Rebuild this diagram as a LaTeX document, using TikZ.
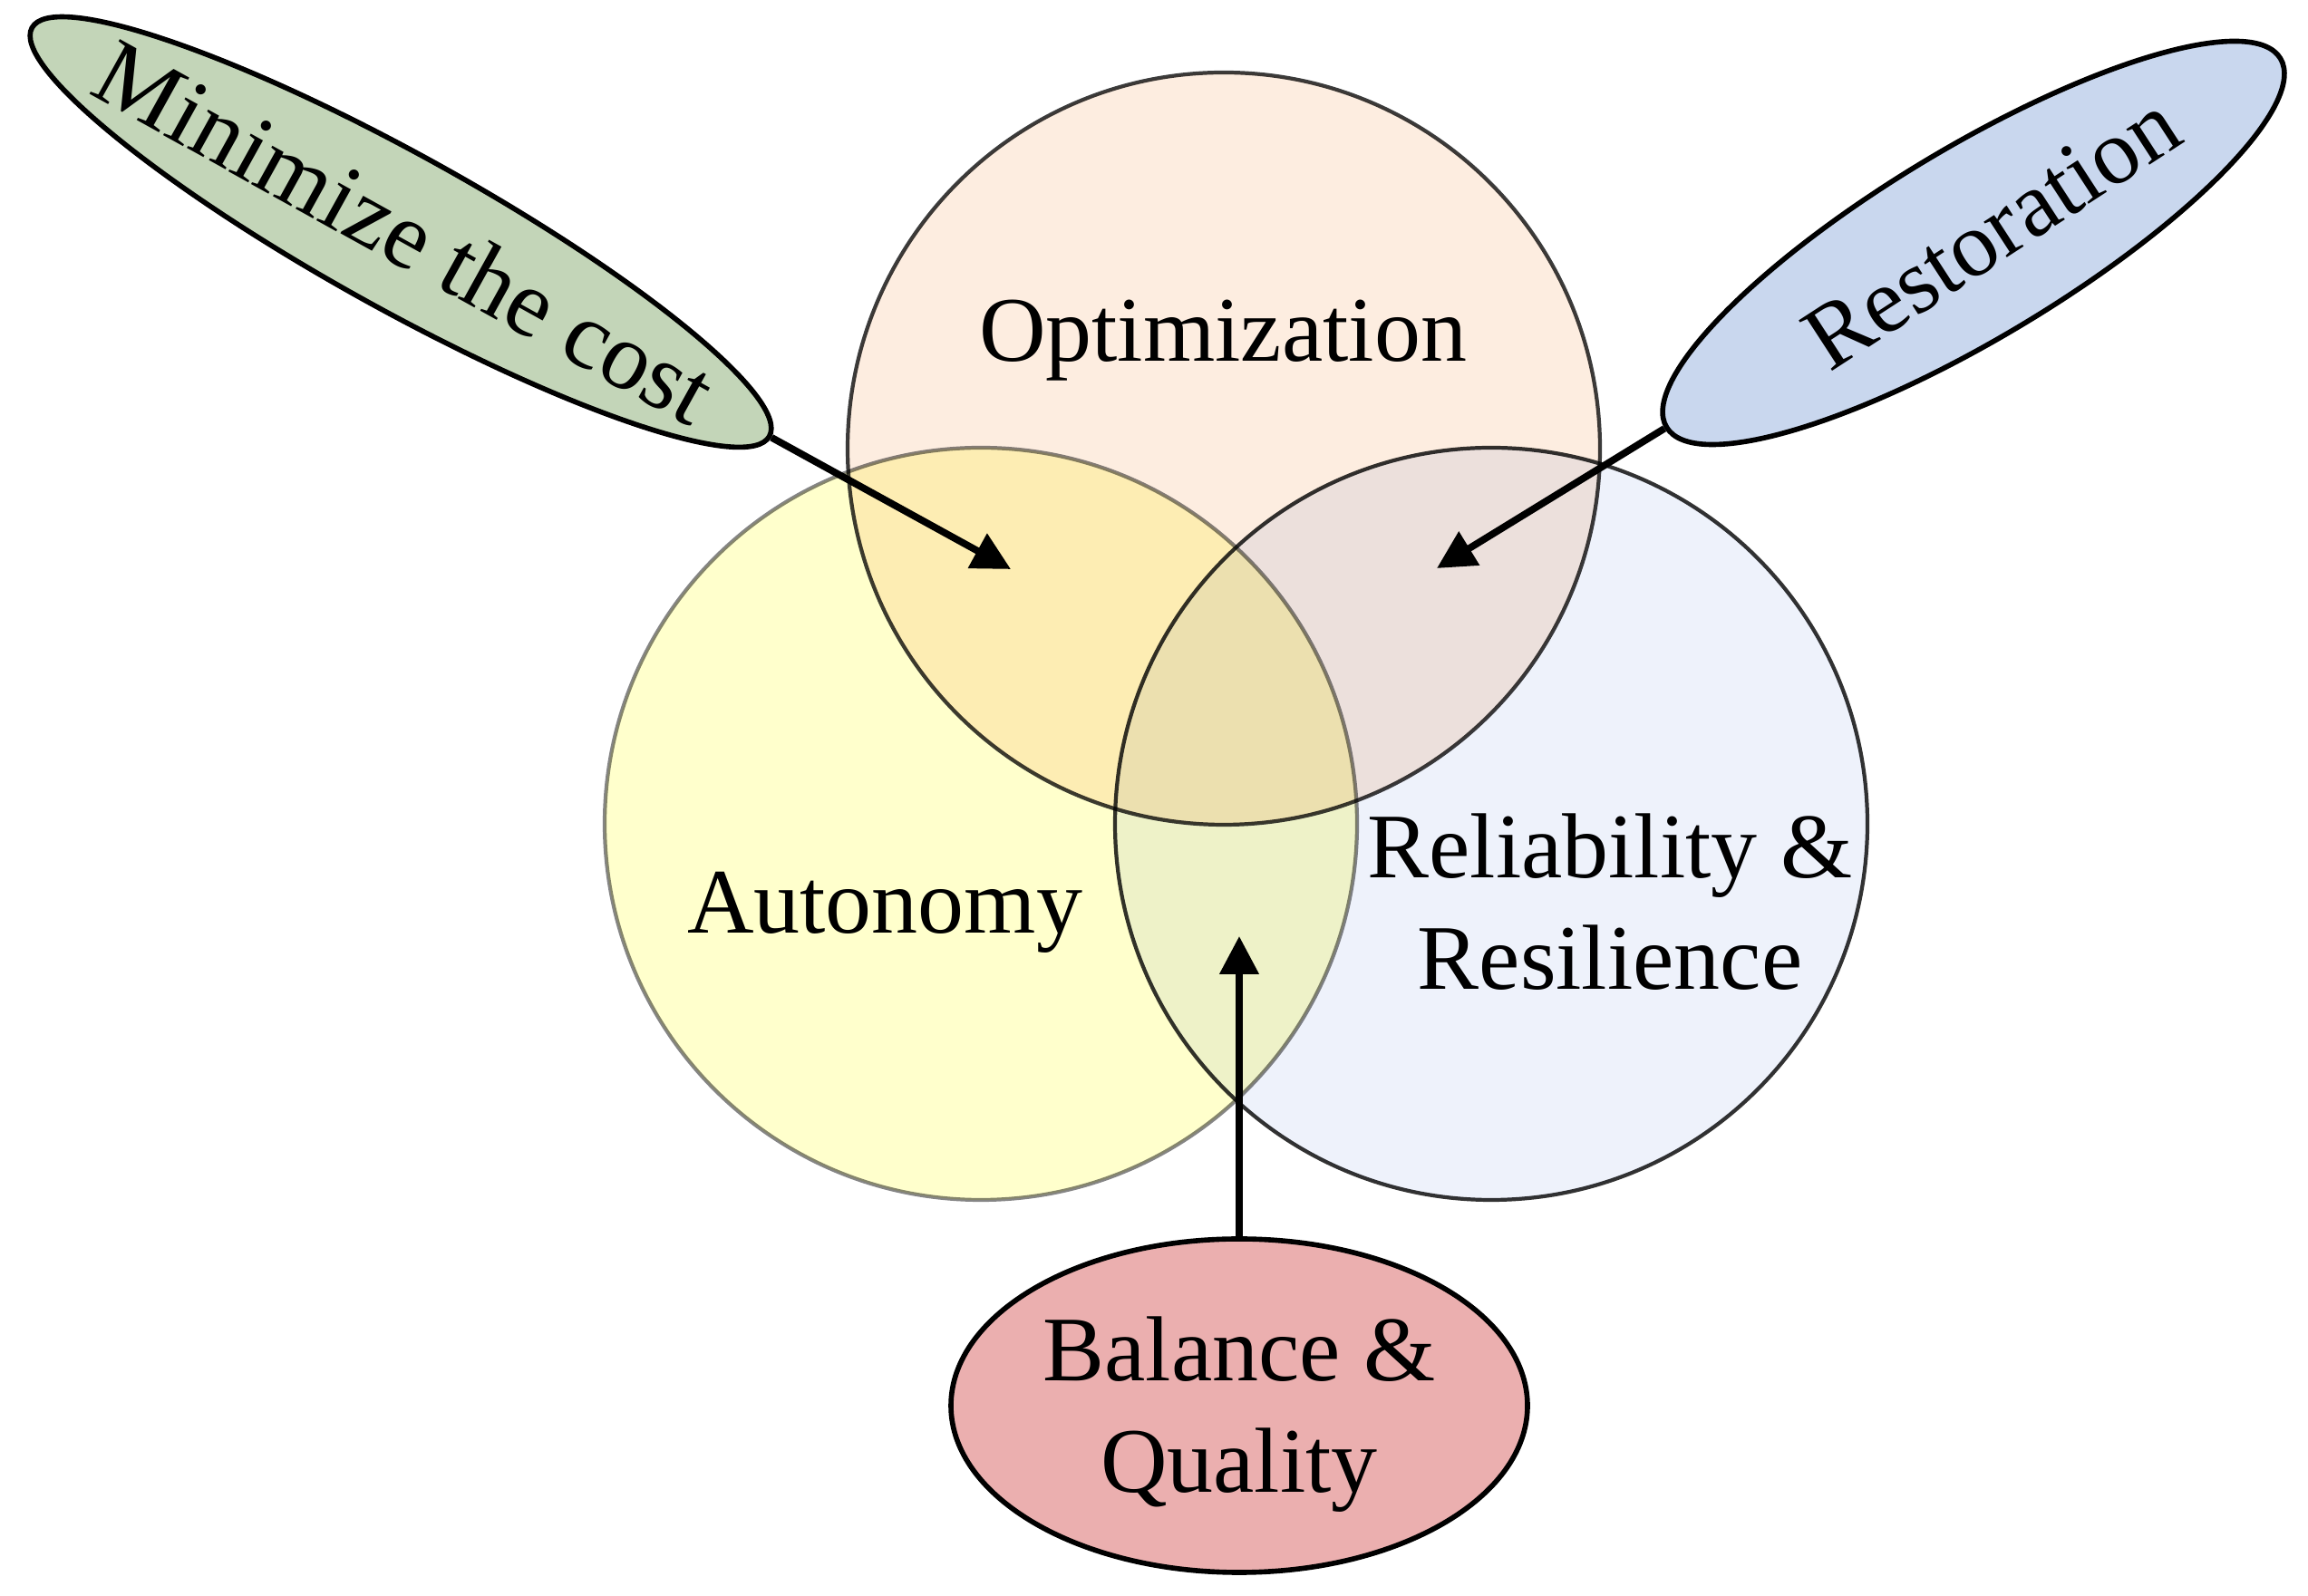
\documentclass[tikz,border=0pt]{standalone}
\usepackage{fontspec}
\setmainfont{Liberation Serif}
\usetikzlibrary{shapes.geometric, arrows.meta}

\definecolor{optfill}{HTML}{FDEDE0}
\definecolor{autfill}{HTML}{FFFFCC}
\definecolor{relfill}{HTML}{EEF2FB}
\definecolor{optline}{HTML}{3C3C3C}
\definecolor{autline}{HTML}{858585}
\definecolor{relline}{HTML}{333333}
\definecolor{costfill}{HTML}{C3D5B8}
\definecolor{restofill}{HTML}{C9D7EE}
\definecolor{balfill}{HTML}{EBAFAF}

\begin{document}
\begin{tikzpicture}[>={Triangle[length=4.2mm,width=4.2mm]},
    venn/.style={circle, minimum size=8.3cm, inner sep=0pt, line width=1.2pt},
    bubble/.style={ellipse, draw=black, line width=1.6pt, inner sep=0pt},
    lbl/.style={font=\fontsize{29}{35}\selectfont, align=center, inner sep=0pt},
    pointer/.style={->, line width=2.2pt}]
    \useasboundingbox (0,0) rectangle (25.46,17.61);

    % 1. Ba vòng tròn Venn (chồng màu kiểu multiply)
    \begin{scope}[blend group=multiply]
        \node[venn, draw=relline, fill=relfill] (rel) at (16.45, 8.52) {};
        \node[venn, draw=autline, fill=autfill] (aut) at (10.82, 8.52) {};
        \node[venn, draw=optline, fill=optfill] (opt) at (13.50, 12.66) {};
    \end{scope}

    % 2. Nhãn của các vòng tròn
    \node[lbl] (optname) at (13.49, 13.85) {Optimization};
    \node[lbl] (autname) at (9.76, 7.54) {Autonomy};
    \node[lbl] (relname) at (17.76, 7.66) {Reliability \&\\Resilience};

    % 3. Ba hình elip chú thích
    \node[bubble, fill=costfill, rotate=-29, minimum width=9.3cm, minimum height=1.7cm] (cost) at (4.42, 15.05) {};
    \node[lbl, rotate=-29, font=\fontsize{30}{35}\selectfont] (costname) at ([xshift=0.05cm]cost) {Minimize the cost};
    \node[bubble, fill=restofill, rotate=31, minimum width=7.9cm, minimum height=2.1cm] (resto) at (21.77, 14.93) {};
    \node[lbl, rotate=33] (restoname) at ([xshift=0.2cm, yshift=0.12cm]resto) {Restoration};
    \node[bubble, fill=balfill, minimum width=6.36cm, minimum height=3.68cm] (bal) at (13.67, 2.10) {};
    \node[lbl] (balname) at (13.67, 2.00) {Balance \&\\Quality};

    % 4. Mũi tên chỉ vào vùng giao
    \coordinate (costtip) at (11.15, 11.33);
    \coordinate (restotip) at (15.85, 11.34);
    \coordinate (baltip) at (13.67, 7.28);
    \draw[pointer] (cost.east) -- (costtip);
    \draw[pointer] (resto.west) -- (restotip);
    \draw[pointer] (bal.north) -- (baltip);
\end{tikzpicture}
\end{document}
